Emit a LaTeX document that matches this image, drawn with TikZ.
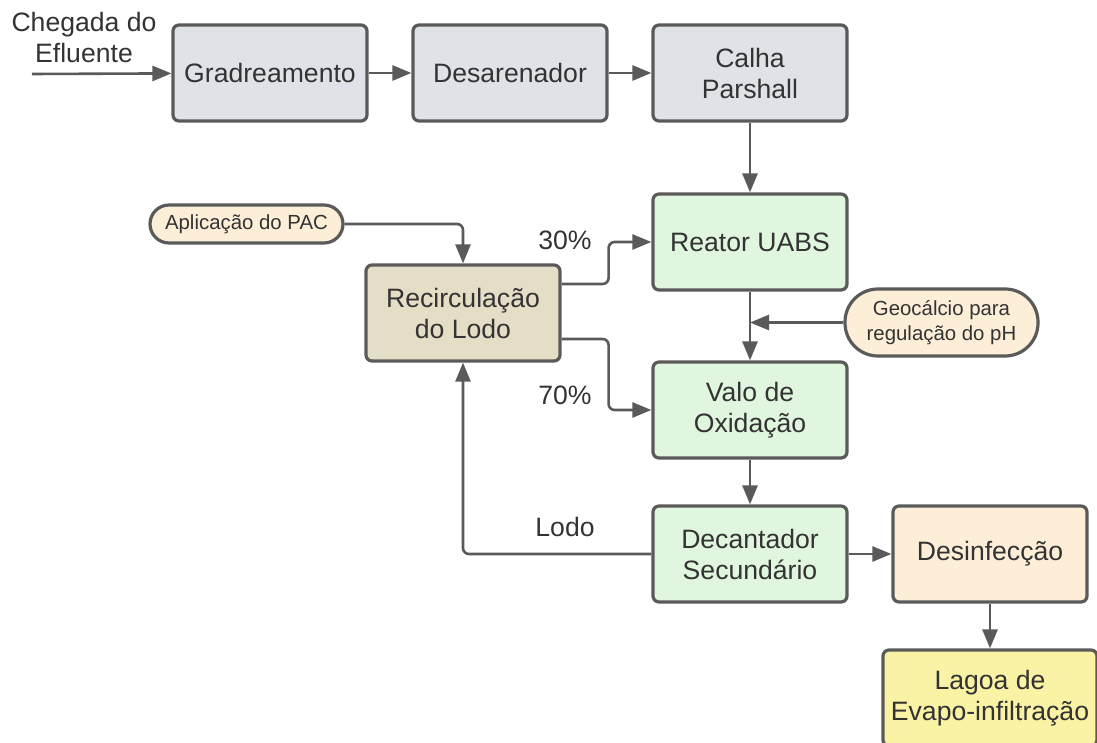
\documentclass[tikz,border=0pt]{standalone}
\usepackage{fontspec}
\setmainfont{Liberation Sans}
\usepackage{tikz}
\usetikzlibrary{arrows.meta}
\usepackage{xcolor}
\definecolor{line gray}{HTML}{5A5A5A}
\definecolor{text gray}{HTML}{333333}
\definecolor{stage gray}{HTML}{DFE2E7}
\definecolor{stage green}{HTML}{E0F6DF}
\definecolor{stage tan}{HTML}{E5DEC7}
\definecolor{stage cream}{HTML}{FDEFD7}
\definecolor{stage yellow}{HTML}{FAF2A4}
\tikzset{
	stage/.style={draw=line gray, line width=1.6pt, rounded corners=3pt, minimum width=97pt, minimum height=48pt, align=center, text=text gray, inner sep=2pt, font=\fontsize{13.3}{15.5}\selectfont},
	feed/.style={draw=line gray, line width=1.6pt, fill=stage cream, minimum width=96.5pt, align=center, text=text gray, inner sep=1pt, font=\fontsize{10.2}{12.5}\selectfont},
	flow/.style={draw=line gray, line width=1.3pt, rounded corners=3pt, -{Triangle[length=9.5pt,width=7.5pt]}},
	pct/.style={text=text gray, font=\fontsize{13.3}{15.5}\selectfont}
}
\begin{document}
\begin{tikzpicture}[x=0.5pt,y=-0.5pt]
			\useasboundingbox (0,0) rectangle (1097,743);
			\node[pct, align=center] (chegada) at (84,37) {Chegada do\\Efluente};
			\coordinate (inlet) at (32,74);
			\node[stage, fill=stage gray] (grad) at (270,73) {Gradreamento};
			\node[stage, fill=stage gray] (desa) at (510,73) {Desarenador};
			\node[stage, fill=stage gray] (calha) at (750,73) {Calha\\Parshall};
			\node[stage, fill=stage green] (reator) at (750,242) {Reator UABS};
			\node[stage, fill=stage green] (valo) at (750,410) {Valo de\\Oxidação};
			\node[stage, fill=stage green] (decant) at (750,554) {Decantador\\Secundário};
			\node[stage, fill=stage cream] (desinf) at (990,554) {Desinfecção};
			\node[stage, fill=stage yellow, minimum width=107pt] (lagoa) at (990,698) {Lagoa de\\Evapo-infiltração};
			\node[stage, fill=stage tan] (recirc) at (463,313) {Recirculação\\do Lodo};
			\node[feed, rounded corners=9.5pt, minimum height=19pt] (pac) at (246.5,224) {Aplicação do PAC};
			\node[feed, rounded corners=16.5pt, minimum height=33.5pt] (geo) at (941.5,322.5) {Geocálcio para\\regulação do pH};
			\node[pct] (lbl30) at (565,240) {30\%};
			\node[pct] (lbl70) at (565,395) {70\%};
			\node[pct] (lbllodo) at (565,527) {Lodo};
			\draw[flow] (inlet) -- (grad);
			\draw[flow] (grad) -- (desa);
			\draw[flow] (desa) -- (calha);
			\draw[flow] (calha) -- (reator);
			\draw[flow] (reator) -- (valo);
			\draw[flow] (geo.west) -- (geo.west -| reator.south);
			\draw[flow] (valo) -- (decant);
			\draw[flow] (decant) -- (desinf);
			\draw[flow] (desinf) -- (lagoa);
			\draw[flow] (pac.east) -| (recirc.north);
			\draw[flow] ([yshift=14.5pt]recirc.east) -- ++(47,0) |- (reator.west);
			\draw[flow] ([yshift=-13pt]recirc.east) -- ++(47,0) |- (valo.west);
			\draw[flow] (decant.west) -| (recirc.south);
		\end{tikzpicture}
\end{document}
